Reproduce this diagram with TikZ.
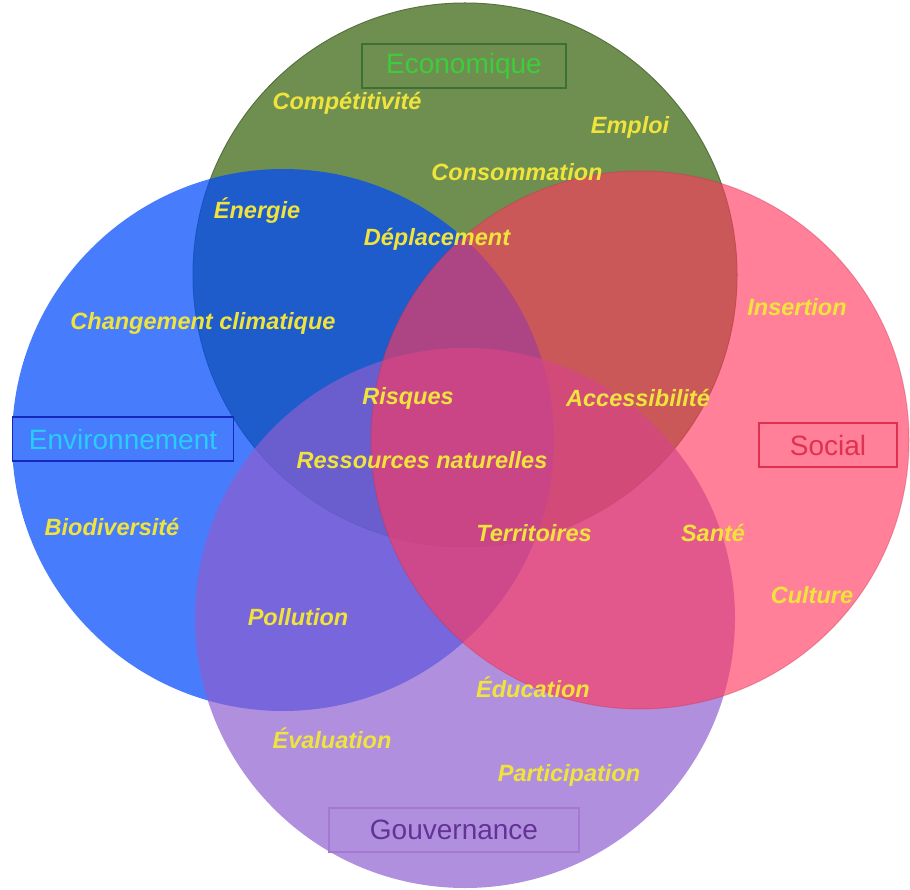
\documentclass[tikz,border=0pt]{standalone}
\usepackage{fontspec}
\setmainfont{Liberation Sans}
\definecolor{cgreen}{RGB}{111,143,80}
\definecolor{cblue}{RGB}{0,73,251}
\definecolor{cred}{RGB}{255,57,94}
\definecolor{cpurple}{RGB}{141,94,207}
\definecolor{txtyellow}{RGB}{240,228,60}
\definecolor{ecoline}{RGB}{60,112,52}
\definecolor{ecotext}{RGB}{60,205,60}
\definecolor{envline}{RGB}{20,40,190}
\definecolor{envtext}{RGB}{40,205,250}
\definecolor{socline}{RGB}{220,50,80}
\definecolor{soctext}{RGB}{222,50,80}
\definecolor{gouvline}{RGB}{165,120,210}
\definecolor{gouvtext}{RGB}{100,50,150}
\begin{document}
\begin{tikzpicture}[x=1pt,y=-1pt,
  word/.style={font=\fontsize{23.5}{25}\selectfont\bfseries\itshape, text=txtyellow, inner sep=0pt},
  cat/.style={draw, line width=1.4pt, font=\fontsize{28}{30}\selectfont, minimum height=44pt, inner sep=0pt}]
\useasboundingbox (0,0) rectangle (910,890);
% circles
\fill[cgreen] (465,275) circle[radius=272];
\draw[cgreen!80!black, line width=1pt] (465,275) circle[radius=272];
\fill[cblue, opacity=0.72] (283,440) circle[radius=271];
\fill[cpurple, opacity=0.69] (465,618) circle[radius=270];
\fill[cred, opacity=0.64] (640,440) circle[radius=269];
\draw[cred!80!black, opacity=0.35, line width=1pt] (640,440) circle[radius=269];
% category boxes
\node[cat, draw=ecoline, text=ecotext, minimum width=204pt] (eco) at (464,66) {Economique};
\node[cat, draw=envline, text=envtext, minimum width=221pt] (env) at (123,439) {Environnement};
\node[cat, draw=socline, text=soctext, minimum width=138pt] (soc) at (828,445) {Social};
\node[cat, draw=gouvline, text=gouvtext, minimum width=250pt] (gouv) at (454,830) {Gouvernance};
% words
\node[word] (w1) at (347,103) {Compétitivité};
\node[word] (w2) at (630,127) {Emploi};
\node[word] (w3) at (517,172) {Consommation};
\node[word] (w4) at (257,211) {Énergie};
\node[word] (w5) at (437,239) {Déplacement};
\node[word] (w6) at (203,323) {Changement climatique};
\node[word] (w7) at (797,307) {Insertion};
\node[word] (w8) at (408,398) {Risques};
\node[word] (w9) at (638,398) {Accessibilité};
\node[word] (w10) at (422,460) {Ressources naturelles};
\node[word] (w11) at (112,527) {Biodiversité};
\node[word] (w12) at (534,533) {Territoires};
\node[word] (w13) at (713,533) {Santé};
\node[word] (w14) at (812,595) {Culture};
\node[word] (w15) at (298,617) {Pollution};
\node[word] (w16) at (533,687) {Éducation};
\node[word] (w17) at (332,738) {Évaluation};
\node[word] (w18) at (569,775) {Participation};
\end{tikzpicture}
\end{document}
